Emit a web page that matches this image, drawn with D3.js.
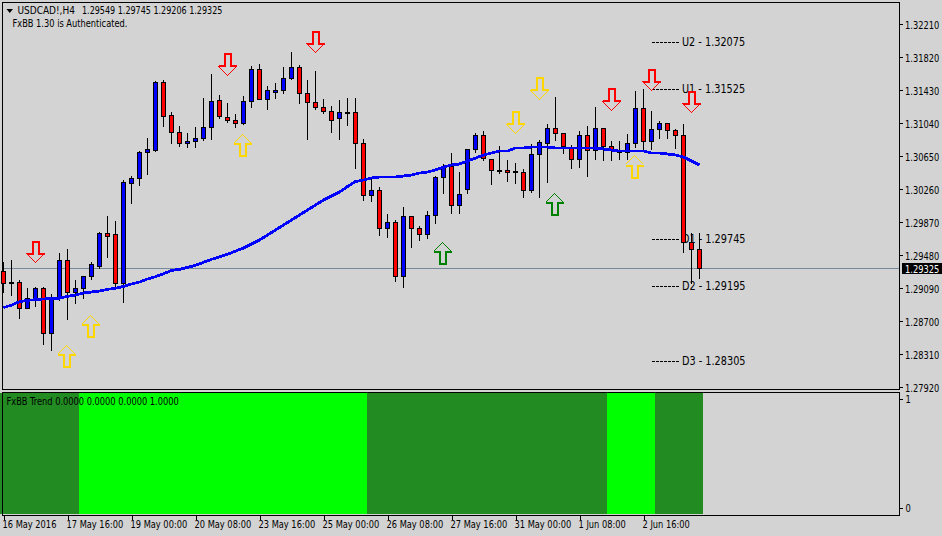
<!DOCTYPE html>
<html><head><meta charset="utf-8">
<style>
html,body{margin:0;padding:0;background:#d3d3d3;}
svg{display:block;}
text{font-family:"DejaVu Sans",sans-serif;font-stretch:condensed;font-size:10.5px;fill:#000;}
.tick line{stroke:#000;shape-rendering:crispEdges;}
</style>
<script src="https://cdn.jsdelivr.net/npm/d3@7"></script>
</head><body>
<svg id="c" width="942" height="536"></svg>
<script>
const opens=[1.29294,1.29141,1.29164,1.28857,1.28952,1.29082,1.28550,1.28975,1.29424,1.29035,1.29093,1.29235,1.29353,1.29732,1.29720,1.29141,1.30334,1.30382,1.30689,1.30724,1.31527,1.31138,1.30937,1.30807,1.30830,1.30866,1.30996,1.31315,1.31114,1.31079,1.31032,1.31303,1.31670,1.31327,1.31409,1.31433,1.31575,1.31705,1.31398,1.31291,1.31221,1.31185,1.31091,1.31173,1.31173,1.30807,1.30192,1.30251,1.29802,1.29873,1.29235,1.29944,1.29791,1.29720,1.29956,1.30405,1.30535,1.30074,1.30263,1.30736,1.30890,1.30618,1.30488,1.30488,1.30476,1.30464,1.30251,1.30677,1.30807,1.30984,1.30925,1.30748,1.30618,1.30901,1.30724,1.30984,1.30771,1.30712,1.30689,1.30807,1.31220,1.30830,1.30961,1.31043,1.30949,1.30890,1.29637,1.29549];
const highs=[1.29400,1.29424,1.29188,1.29093,1.29105,1.29105,1.29023,1.29507,1.29554,1.29188,1.29235,1.29400,1.29755,1.29944,1.29885,1.30370,1.30417,1.30712,1.30866,1.31539,1.31551,1.31173,1.31008,1.30925,1.30996,1.31339,1.31622,1.31374,1.31280,1.31150,1.31362,1.31717,1.31741,1.31480,1.31516,1.31705,1.31882,1.31729,1.31551,1.31658,1.31327,1.31244,1.31315,1.31339,1.31339,1.30854,1.30393,1.30287,1.29968,1.29897,1.30050,1.29944,1.29826,1.30003,1.30417,1.30559,1.30689,1.30464,1.30736,1.30925,1.30949,1.30618,1.30771,1.30606,1.30571,1.30500,1.30795,1.30842,1.31032,1.31351,1.30925,1.30783,1.30949,1.31008,1.31232,1.30984,1.30830,1.30830,1.30913,1.31421,1.31445,1.31185,1.31067,1.31043,1.30972,1.31032,1.29743,1.29745];
const lows=[1.29046,1.29011,1.28738,1.28857,1.28881,1.28432,1.28361,1.28952,1.28727,1.28917,1.28975,1.29200,1.29330,1.29459,1.29093,1.28928,1.30098,1.30311,1.30441,1.30712,1.31008,1.30807,1.30771,1.30759,1.30759,1.30842,1.30854,1.31102,1.31055,1.30996,1.31032,1.31232,1.31327,1.31209,1.31339,1.31398,1.31563,1.31280,1.30854,1.31209,1.31162,1.30937,1.30854,1.31020,1.30511,1.30133,1.30121,1.29720,1.29696,1.29176,1.29105,1.29578,1.29661,1.29684,1.29862,1.30216,1.29980,1.29980,1.30216,1.30700,1.30606,1.30322,1.30452,1.30358,1.30334,1.30169,1.30228,1.30169,1.30346,1.30842,1.30689,1.30511,1.30523,1.30417,1.30618,1.30606,1.30606,1.30618,1.30618,1.30759,1.30712,1.30736,1.30866,1.30866,1.30748,1.29519,1.29152,1.29206];
const closes=[1.29141,1.29164,1.28857,1.28964,1.29082,1.28550,1.28987,1.29424,1.29035,1.29093,1.29235,1.29377,1.29732,1.29708,1.29141,1.30346,1.30393,1.30689,1.30736,1.31527,1.31126,1.30937,1.30807,1.30830,1.30866,1.30996,1.31303,1.31126,1.31079,1.31032,1.31303,1.31670,1.31327,1.31433,1.31433,1.31575,1.31705,1.31398,1.31291,1.31232,1.31185,1.31079,1.31173,1.31173,1.30807,1.30192,1.30251,1.29802,1.29873,1.29235,1.29944,1.29791,1.29720,1.29956,1.30405,1.30535,1.30074,1.30204,1.30736,1.30890,1.30629,1.30488,1.30488,1.30464,1.30464,1.30251,1.30677,1.30819,1.30984,1.30925,1.30771,1.30618,1.30901,1.30724,1.30984,1.30771,1.30736,1.30689,1.30807,1.31220,1.30830,1.30972,1.31043,1.30949,1.30890,1.29637,1.29554,1.29325];
const movingAverage=[1.28861,1.28892,1.28932,1.28948,1.28955,1.28964,1.28967,1.28972,1.28996,1.29011,1.29035,1.29046,1.29058,1.29078,1.29090,1.29113,1.29141,1.29164,1.29200,1.29227,1.29262,1.29302,1.29314,1.29338,1.29361,1.29397,1.29432,1.29463,1.29491,1.29530,1.29566,1.29613,1.29661,1.29720,1.29779,1.29838,1.29897,1.29956,1.30015,1.30074,1.30133,1.30180,1.30228,1.30293,1.30352,1.30370,1.30393,1.30405,1.30405,1.30405,1.30417,1.30429,1.30452,1.30464,1.30488,1.30523,1.30547,1.30559,1.30594,1.30629,1.30665,1.30689,1.30712,1.30712,1.30748,1.30748,1.30759,1.30759,1.30759,1.30748,1.30748,1.30748,1.30748,1.30748,1.30748,1.30736,1.30724,1.30712,1.30712,1.30712,1.30712,1.30689,1.30689,1.30677,1.30665,1.30641,1.30594,1.30547];
const trend=[0,0,0,0,0,0,0,0,0,0,1,1,1,1,1,1,1,1,1,1,1,1,1,1,1,1,1,1,1,1,1,1,1,1,1,1,1,1,1,1,1,1,1,1,1,1,0,0,0,0,0,0,0,0,0,0,0,0,0,0,0,0,0,0,0,0,0,0,0,0,0,0,0,0,0,0,1,1,1,1,1,1,0,0,0,0,0,0];
const priceTicks=[1.32210,1.31820,1.31430,1.31040,1.30650,1.30260,1.29870,1.29480,1.29090,1.28700,1.28310,1.27920];
const timeTicks=[0,8,16,24,32,40,48,56,64,72,80];
const timeLabels=["16 May 2016","17 May 16:00","19 May 00:00","20 May 08:00","23 May 16:00","25 May 00:00","26 May 08:00","27 May 16:00","31 May 00:00","1 Jun 08:00","2 Jun 16:00"];
const levelNames=["U2","U1","D1","D2","D3"];
const levelValues=[1.32075,1.31525,1.29745,1.29195,1.28305];
const arrowIndex=[4,28,39,76,81,86,67,64,8,11,30,79,55,69];
const arrowPrice=[1.29392,1.31607,1.31871,1.31197,1.31425,1.31165,1.31327,1.30925,1.28416,1.28770,1.30913,1.30657,1.29634,1.30212];
const arrowDir=["down","down","down","down","down","down","down","down","up","up","up","up","up","up"];
const arrowKind=["red","red","red","red","red","red","gold","gold","gold","gold","gold","gold","green","green"];
const lastPrice=1.29325;
const symbolText="USDCAD!,H4";
const quoteText="1.29549 1.29745 1.29206 1.29325";
const authText="FxBB 1.30 is Authenticated.";
const trendText="FxBB Trend 0.0000 0.0000 0.0000 1.0000";

const colors={red:"#ff0000",gold:"#ffd700",green:"#008000",up:"#0000ff",down:"#ff0000",ma:"#0000ff",last:"#778899",bright:"#00ff00",dark:"#228b22"};
const svg=d3.select("#c");
const x=d3.scaleLinear().domain([0,87]).range([3.5,699.5]);
const y=d3.scaleLinear().domain([1.27920,1.32210]).range([387.3,24.3]);
const yPane=d3.scaleLinear().domain([-0.055,1.055]).range([514,393]);
const snap=v=>Math.round(v-0.5)+0.5;

// indicator pane
svg.append("g").selectAll("rect").data(trend).join("rect")
  .attr("x",(d,i)=>x(i)-4.5).attr("width",8)
  .attr("y",yPane(1.055)).attr("height",yPane(-0.055)-yPane(1.055))
  .attr("fill",d=>d?colors.bright:colors.dark).attr("shape-rendering","crispEdges");

// frames
svg.append("rect").attr("x",2.5).attr("y",2.5).attr("width",897).attr("height",387).attr("fill","none").attr("stroke","#000");
svg.append("rect").attr("x",2.5).attr("y",392.5).attr("width",897).attr("height",123).attr("fill","none").attr("stroke","#000");

// level labels
const lv=svg.append("g");
levelNames.forEach((n,i)=>{
  const py=y(levelValues[i]);
  lv.append("line").attr("x1",652).attr("x2",679).attr("y1",snap(py+7)).attr("y2",snap(py+7))
    .attr("stroke","#000").attr("stroke-dasharray","3,1");
  lv.append("text").attr("class","lvl").attr("x",682).attr("y",py+10.5).style("font-size","12px").text(n+" - "+levelValues[i].toFixed(5));
});

// last price line
svg.append("line").attr("x1",3).attr("x2",899).attr("y1",snap(y(lastPrice))).attr("y2",snap(y(lastPrice)))
  .attr("stroke",colors.last);

// candles
const gC=svg.append("g");
opens.forEach((o,i)=>{
  const c=closes[i],cx=x(i);
  gC.append("line").attr("x1",cx).attr("x2",cx).attr("y1",Math.round(y(highs[i]))).attr("y2",Math.round(y(lows[i]))+1).attr("stroke","#000");
  const t=snap(y(Math.max(o,c))),b=snap(y(Math.min(o,c)));
  gC.append("rect").attr("x",cx-2).attr("y",t).attr("width",4).attr("height",Math.max(b-t,1))
    .attr("fill",c>=o?colors.up:colors.down).attr("stroke","#000");
});

// moving average
svg.append("path").attr("d",d3.line().x((d,i)=>x(i)).y(d=>y(d))(movingAverage))
  .attr("fill","none").attr("stroke",colors.ma).attr("stroke-width",2.8).attr("shape-rendering","crispEdges");

// arrows
const gA=svg.append("g");
arrowIndex.forEach((idx,k)=>{
  const dir=arrowDir[k]==="down"?-1:1;
  const cx=Math.floor(x(idx))+(dir>0?-0.5:0.5), tip=y(arrowPrice[k]);
  const col=colors[arrowKind[k]];
  const Y=v=>snap(tip+dir*v);
  gA.append("path").attr("d",`M${cx-9},${Y(9.5)}H${cx-3}V${Y(21.5)}H${cx+3}V${Y(9.5)}H${cx+9}`)
    .attr("fill","none").attr("stroke",col).attr("stroke-width",2).attr("shape-rendering","crispEdges");
  gA.append("path").attr("d",`M${cx-9},${Y(9)}L${cx},${Y(0)}L${cx+9},${Y(9)}`)
    .attr("fill","none").attr("stroke",col).attr("stroke-width",1).attr("shape-rendering","crispEdges");
});

// axes
const ax=svg.append("g").attr("transform","translate(899.5,0)")
  .call(d3.axisRight(y).tickValues(priceTicks).tickFormat(d3.format(".5f")).tickSize(3).tickPadding(2.5));
ax.select(".domain").remove();
ax.selectAll("text").attr("class","right").attr("dy","0.42em").style("font-size","10px");
const ax2=svg.append("g").attr("transform","translate(899.5,0)")
  .call(d3.axisRight(yPane).tickValues([0,1]).tickFormat(d3.format("d")).tickSize(3).tickPadding(3));
ax2.select(".domain").remove();
const at=svg.append("g").attr("transform","translate(0,515.5)")
  .call(d3.axisBottom(x).tickValues(timeTicks).tickFormat((d,i)=>timeLabels[i]).tickSize(4).tickPadding(2));
at.select(".domain").remove();
at.selectAll("text").attr("text-anchor","start").attr("x",-1.5).attr("y",5.5).attr("dy","0.71em");

// last price tag
svg.append("rect").attr("x",902).attr("y",263).attr("width",40).attr("height",11).attr("fill","#000");
svg.append("text").attr("class","right").attr("x",905).attr("y",y(lastPrice)+4.2).style("fill","#fff").style("font-size","10px").text(lastPrice.toFixed(5));

// header
svg.append("path").attr("d",d3.line()([[6.5,9],[13,9],[9.75,13]])+"Z").attr("fill","#000");
svg.append("text").attr("class","sym").attr("x",17.5).attr("y",14).text(symbolText);
svg.append("text").attr("class","quote").attr("x",82).attr("y",14).text(quoteText);
svg.append("text").attr("x",12.5).attr("y",27).text(authText);
svg.append("text").attr("x",6.5).attr("y",405).text(trendText);

// horizontally condense text to the terminal font's metrics
const squeeze={sym:0.95,quote:0.85,lvl:0.9,right:0.92};
svg.selectAll("text").each(function(){
  const f=squeeze[this.getAttribute("class")]||0.875;
  this.setAttribute("lengthAdjust","spacingAndGlyphs");
  this.setAttribute("textLength",(this.getComputedTextLength()*f).toFixed(1));
});
</script>
</body></html>
